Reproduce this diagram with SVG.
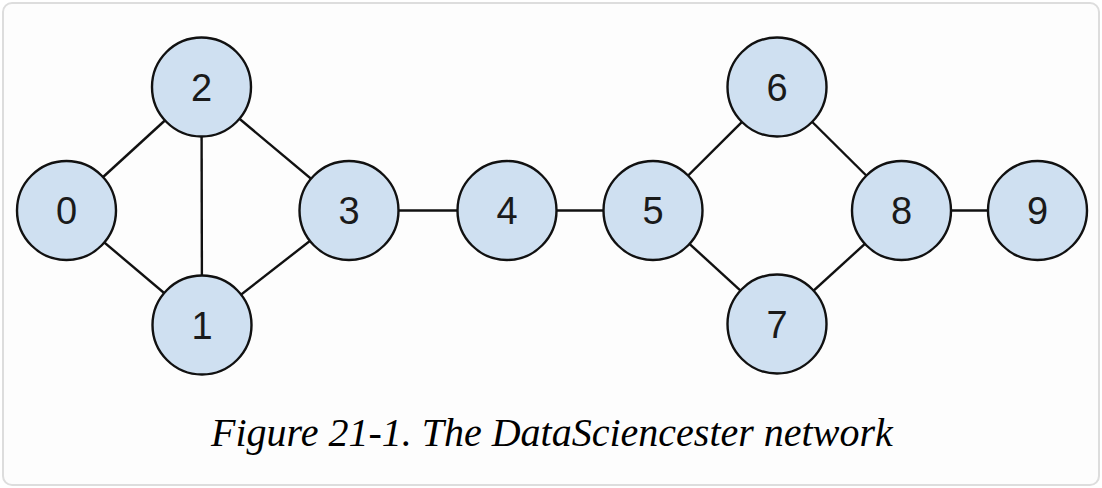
<svg xmlns="http://www.w3.org/2000/svg" width="1102" height="488" viewBox="0 0 1102 488">
<style>
.edge{stroke:#111111;stroke-width:2.4;fill:none}
.node circle{fill:#cfe0f1;stroke:#111111;stroke-width:2.4}
.node text{font-family:"Liberation Sans",Arial,sans-serif;font-size:38px;fill:#1a1a1a;text-anchor:middle}
.caption{font-family:"Liberation Serif","Times New Roman",serif;font-style:italic;font-size:40px;fill:#000}
</style>
<rect x="0" y="0" width="1102" height="488" fill="#ffffff"/>
<rect x="3" y="3" width="1096" height="482" rx="9" ry="9" fill="#fdfdfd" stroke="#dddddd" stroke-width="2"/>
<g id="edges">
<line class="edge" x1="66.5" y1="210.5" x2="202" y2="325"/>
<line class="edge" x1="66.5" y1="210.5" x2="201.5" y2="87"/>
<line class="edge" x1="201.5" y1="87" x2="202" y2="325"/>
<line class="edge" x1="202" y1="325" x2="349" y2="210.5"/>
<line class="edge" x1="201.5" y1="87" x2="349" y2="210.5"/>
<line class="edge" x1="349" y1="210.5" x2="507" y2="210.5"/>
<line class="edge" x1="507" y1="210.5" x2="653" y2="210.5"/>
<line class="edge" x1="653" y1="210.5" x2="777" y2="87"/>
<line class="edge" x1="653" y1="210.5" x2="777" y2="324"/>
<line class="edge" x1="777" y1="87" x2="901.5" y2="210.5"/>
<line class="edge" x1="777" y1="324" x2="901.5" y2="210.5"/>
<line class="edge" x1="901.5" y1="210.5" x2="1037.5" y2="210.5"/>
</g>
<g id="node0" class="node"><circle cx="66.5" cy="210.5" r="49.5"/><text x="66.5" y="224.3">0</text></g>
<g id="node1" class="node"><circle cx="202" cy="325" r="49.5"/><text x="202" y="338.8">1</text></g>
<g id="node2" class="node"><circle cx="201.5" cy="87" r="49.5"/><text x="201.5" y="100.8">2</text></g>
<g id="node3" class="node"><circle cx="349" cy="210.5" r="49.5"/><text x="349" y="224.3">3</text></g>
<g id="node4" class="node"><circle cx="507" cy="210.5" r="49.5"/><text x="507" y="224.3">4</text></g>
<g id="node5" class="node"><circle cx="653" cy="210.5" r="49.5"/><text x="653" y="224.3">5</text></g>
<g id="node6" class="node"><circle cx="777" cy="87" r="49.5"/><text x="777" y="100.8">6</text></g>
<g id="node7" class="node"><circle cx="777" cy="324" r="49.5"/><text x="777" y="337.8">7</text></g>
<g id="node8" class="node"><circle cx="901.5" cy="210.5" r="49.5"/><text x="901.5" y="224.3">8</text></g>
<g id="node9" class="node"><circle cx="1037.5" cy="210.5" r="49.5"/><text x="1037.5" y="224.3">9</text></g>
<text class="caption" x="211" y="445.5">Figure 21-1. The DataSciencester network</text>
</svg>
